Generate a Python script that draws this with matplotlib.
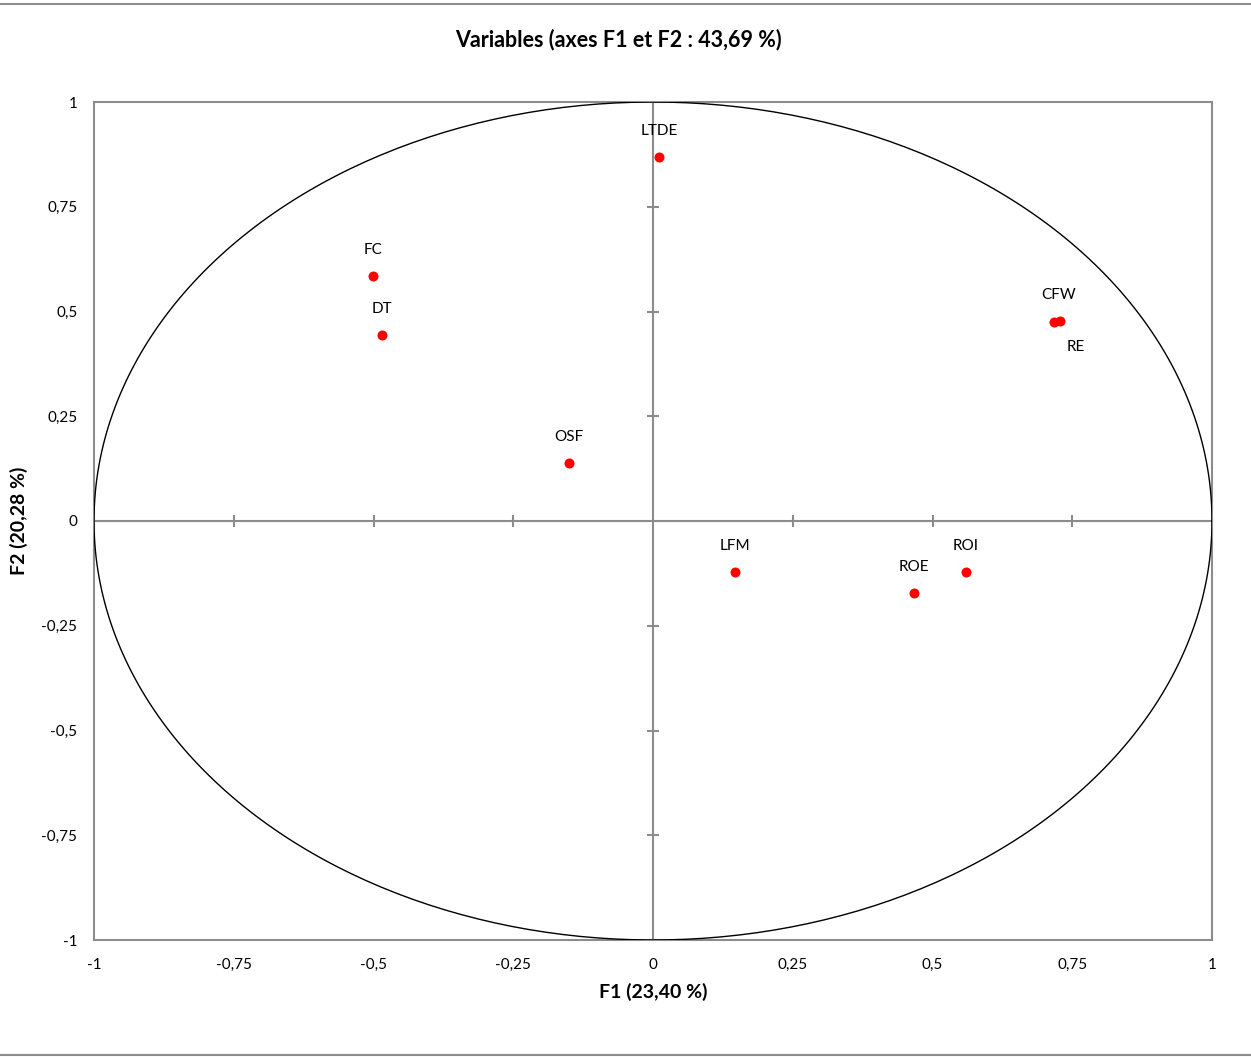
import matplotlib.pyplot as plt
import numpy as np
from matplotlib.lines import Line2D

# ── Data ──────────────────────────────────────────────────────────────────────
labels = ["LTDE", "FC", "DT", "OSF", "CFW", "RE", "LFM", "ROE", "ROI"]
f1 = [0.011, -0.501, -0.485, -0.150, 0.717, 0.728, 0.147, 0.467, 0.560]
f2 = [0.869, 0.585, 0.444, 0.138, 0.475, 0.477, -0.122, -0.172, -0.122]
ticks = [-1, -0.75, -0.5, -0.25, 0, 0.25, 0.5, 0.75, 1]
tick_labels = ["-1", "-0,75", "-0,5", "-0,25", "0", "0,25", "0,5", "0,75", "1"]

title = "Variables (axes F1 et F2 : 43,69 %)"
xlabel = "F1 (23,40 %)"
ylabel = "F2 (20,28 %)"

# label offsets in pixels (dx, dy), matching the reference placement
px = 0.72
offsets = {"CFW": (5, 27), "RE": (16, -26)}

# ── Figure ────────────────────────────────────────────────────────────────────
plt.rcParams["font.family"] = ["Lato", "DejaVu Sans"]
grey = "#8c8c8c"

fig = plt.figure(figsize=(12.51, 10.57), dpi=100)
pos = [94 / 1251, 1 - 940 / 1057, 1118 / 1251, 838 / 1057]
ax = fig.add_axes(pos)
ax.set_xlim(-1, 1)
ax.set_ylim(-1, 1)
for s in ax.spines.values():
    s.set_color(grey)
    s.set_linewidth(1.5)
ax.set_xticks(ticks)
ax.set_xticklabels(tick_labels)
ax.set_yticks(ticks)
ax.set_yticklabels(tick_labels)
ax.tick_params(axis="both", length=0, labelsize=11, colors="black")
ax.tick_params(axis="x", pad=13)
ax.tick_params(axis="y", pad=12)
ax.set_xlabel(xlabel, fontsize=14, fontweight="bold", labelpad=8)

# centre axes with cross ticks (separate axes, same limits)
ax0 = fig.add_axes(pos, facecolor="none")
ax0.set_xlim(-1, 1)
ax0.set_ylim(-1, 1)
for side in ["top", "right"]:
    ax0.spines[side].set_visible(False)
for side in ["left", "bottom"]:
    ax0.spines[side].set_position("zero")
    ax0.spines[side].set_color(grey)
    ax0.spines[side].set_linewidth(1.5)
inner = [t for t in ticks if abs(t) != 1 and t != 0]
ax0.set_xticks(inner)
ax0.set_yticks(inner)
ax0.tick_params(axis="both", direction="inout", length=9, width=1.5,
                color=grey, labelbottom=False, labelleft=False)

# correlation circle
theta = np.linspace(0, 2 * np.pi, 400)
ax0.plot(np.cos(theta), np.sin(theta), color="black", lw=1, zorder=3)

ax0.scatter(f1, f2, s=52, color="#ff0000", zorder=4, linewidths=0)
for name, x, y in zip(labels, f1, f2):
    dx, dy = offsets.get(name, (0, 26))
    ax0.annotate(name, (x, y), xytext=(dx * px, dy * px),
                 textcoords="offset points", ha="center", va="center",
                 fontsize=11, zorder=5)

fig.text(618 / 1251, 1 - 40 / 1057, title, ha="center", va="center",
         fontsize=15.5, fontweight="bold")
fig.text(19 / 1251, 1 - 521 / 1057, ylabel, ha="center", va="center",
         rotation=90, fontsize=14, fontweight="bold")

# thin grey frame lines at top and bottom of the image
fig.add_artist(Line2D([0, 1], [1 - 4 / 1057, 1 - 4 / 1057], color=grey, lw=1.5,
                      transform=fig.transFigure))
fig.add_artist(Line2D([0, 1], [1 - 1055 / 1057, 1 - 1055 / 1057], color=grey,
                      lw=1.5, transform=fig.transFigure))

fig.savefig("out.png", dpi=100)
